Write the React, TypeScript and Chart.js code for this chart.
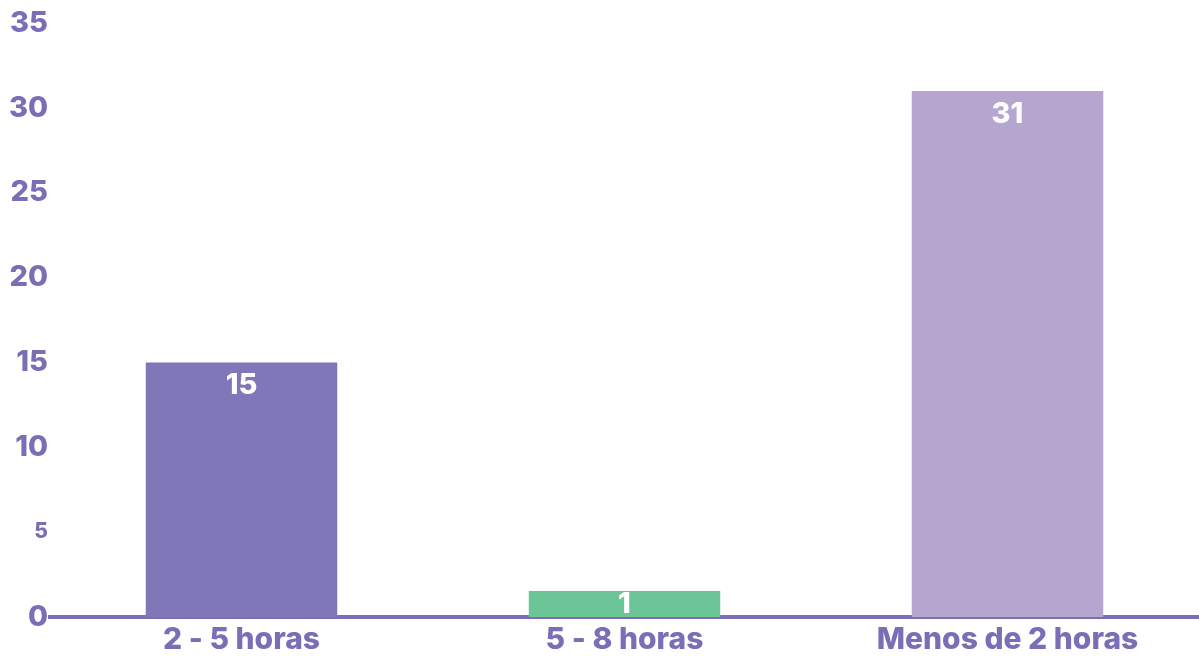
import React, { useEffect, useRef } from "react";
import { Chart, registerables } from "chart.js";

Chart.register(...registerables);

const categories = ["2 - 5 horas", "5 - 8 horas", "Menos de 2 horas"];
const values = [15, 1, 31];
const barColors = ["#8077B9", "#6CC597", "#B5A5CF"];
const yTicks = [0, 5, 10, 15, 20, 25, 30, 35];

const TEXT = "#7B6EB7";
const FONT = "Inter";

const labelPlugin = {
  id: "barLabels",
  afterDatasetsDraw(chart: any) {
    const { ctx, chartArea } = chart;
    const meta = chart.getDatasetMeta(0);
    ctx.save();
    ctx.fillStyle = "#ffffff";
    ctx.font = `800 29px ${FONT}`;
    ctx.textAlign = "center";
    ctx.textBaseline = "middle";
    meta.data.forEach((bar: any, i: number) => {
      const y = Math.min(bar.y + 23, chartArea.bottom - 13);
      ctx.fillText(String(values[i]), bar.x, y);
    });
    ctx.restore();
  },
};

export default function App() {
  const ref = useRef<HTMLCanvasElement>(null);
  useEffect(() => {
    document.body.style.margin = "0";
    const chart = new Chart(ref.current!, {
      type: "bar",
      data: {
        labels: categories,
        datasets: [
          {
            data: values,
            backgroundColor: barColors,
            barPercentage: 0.5,
            categoryPercentage: 1,
            minBarLength: 26,
          },
        ],
      },
      options: {
        animation: false,
        responsive: false,
        devicePixelRatio: 1,
        layout: { padding: { top: 23, right: -4, left: 0, bottom: 0 } },
        plugins: { legend: { display: false }, tooltip: { enabled: false } },
        scales: {
          x: {
            grid: { display: false, drawTicks: false },
            border: { display: true, color: "#7B6EB7", width: 4 },
            ticks: {
              color: TEXT,
              font: { family: FONT, size: 30, weight: "800" },
              padding: 5,
              maxRotation: 0,
              autoSkip: false,
            },
            afterFit: (s: any) => {
              s.height = 39;
            },
          },
          y: {
            min: 0,
            max: 35,
            afterBuildTicks: (s: any) => {
              s.ticks = yTicks.map((v) => ({ value: v }));
            },
            grid: { display: false, drawTicks: false },
            border: { display: false },
            ticks: {
              color: TEXT,
              padding: 2,
              font: (c: any) =>
                c.tick && c.tick.value === 5
                  ? { family: FONT, size: 21, weight: "800" }
                  : { family: FONT, size: 29, weight: "800" },
            },
            afterFit: (s: any) => {
              s.width = 50;
            },
          },
        },
      },
      plugins: [labelPlugin],
    });
    return () => chart.destroy();
  }, []);
  return (
    <div style={{ width: 1199, height: 656 }}>
      <canvas ref={ref} width={1199} height={656} style={{ display: "block" }} />
    </div>
  );
}
